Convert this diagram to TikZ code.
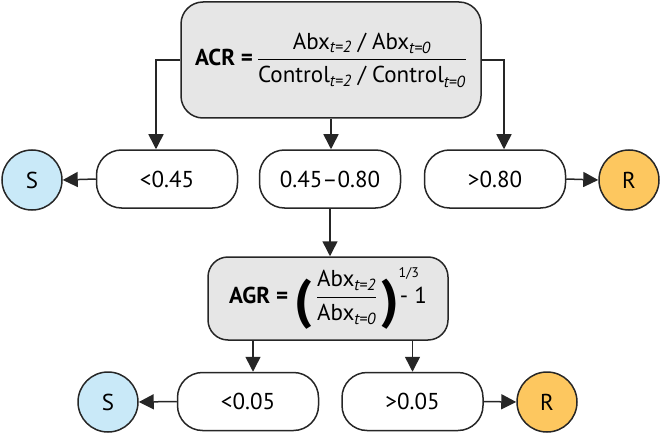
\documentclass[tikz,border=0pt]{standalone}
\usepackage{amsmath}
\usepackage{fontspec}
\setmainfont{PT Sans}
\usetikzlibrary{calc}
\usetikzlibrary{arrows.meta}

\definecolor{sblue}{HTML}{C9E9F8}
\definecolor{rorange}{HTML}{FDC75F}
\definecolor{boxgray}{HTML}{E6E6E6}

\newcommand{\tsub}[1]{_{\text{\itshape #1}}}
\newcommand{\bigparen}[1]{\raisebox{-0.38\height}{\fontsize{54}{54}\selectfont\bfseries #1}}

\begin{document}
\begin{tikzpicture}[x=1pt,y=-1pt,
  font=\fontsize{23}{27}\selectfont,
  every node/.style={draw=black!85,line width=1.5pt,inner sep=0pt},
  formbox/.style={fill=boxgray,rounded corners=22pt},
  choice/.style={fill=white,rounded corners=25pt,minimum width=141pt,minimum height=58pt},
  sus/.style={circle,fill=sblue,minimum size=60pt},
  res/.style={circle,fill=rorange,minimum size=60pt},
  arr/.style={draw=black!85,line width=1.5pt,-{Triangle[length=15pt,width=15pt]}}]

\useasboundingbox (0,0) rectangle (661,433);

% first test
\node[formbox,minimum width=300pt,minimum height=116pt] (acr) at (331,60)
  {\textbf{ACR =}\,$\dfrac{\text{Abx}\tsub{t=2}\text{ / Abx}\tsub{t=0}}{\text{Control}\tsub{t=2}\text{ / Control}\tsub{t=0}}$};

\node[choice] (lo1) at (167,179) {<0.45};
\node[choice] (mid1) at (330,179) {0.45--0.80};
\node[choice] (hi1) at (495,179) {>0.80};
\node[sus] (s1) at (32,180) {S};
\node[res] (r1) at (629,180) {R};

\draw[arr] (acr.west) -| ([xshift=-11pt]lo1.north);
\draw[arr] (acr.east) -| ([xshift=9pt]hi1.north);
\draw[arr] (acr.south) -- (acr.south |- mid1.north);
\draw[arr] (lo1.west) -- (s1.east);
\draw[arr] (hi1.east) -- (r1.west);

% second test
\node[formbox,rounded corners=20pt,minimum width=240pt,minimum height=83pt] (agr) at (328,298.5)
  {\textbf{AGR =}\;\bigparen{(}\,$\dfrac{\text{Abx}\tsub{t=2}}{\text{Abx}\tsub{t=0}}$\,\bigparen{)}\raisebox{26pt}{\fontsize{14}{14}\selectfont 1/3}\hspace{-19pt}- 1};

\node[choice] (lo2) at (248,401.5) {<0.05};
\node[choice] (hi2) at (412.5,401.5) {>0.05};
\node[sus] (s2) at (108,402) {S};
\node[res] (r2) at (547,402) {R};

\draw[arr] (mid1.south) -- (mid1.south |- agr.north);
\draw[arr] ([xshift=5pt]lo2.north |- agr.south) -- ([xshift=5pt]lo2.north);
\draw[arr] (hi2.north |- agr.south) -- (hi2.north);
\draw[arr] (lo2.west) -- (s2.east);
\draw[arr] (hi2.east) -- (r2.west);

\end{tikzpicture}
\end{document}
